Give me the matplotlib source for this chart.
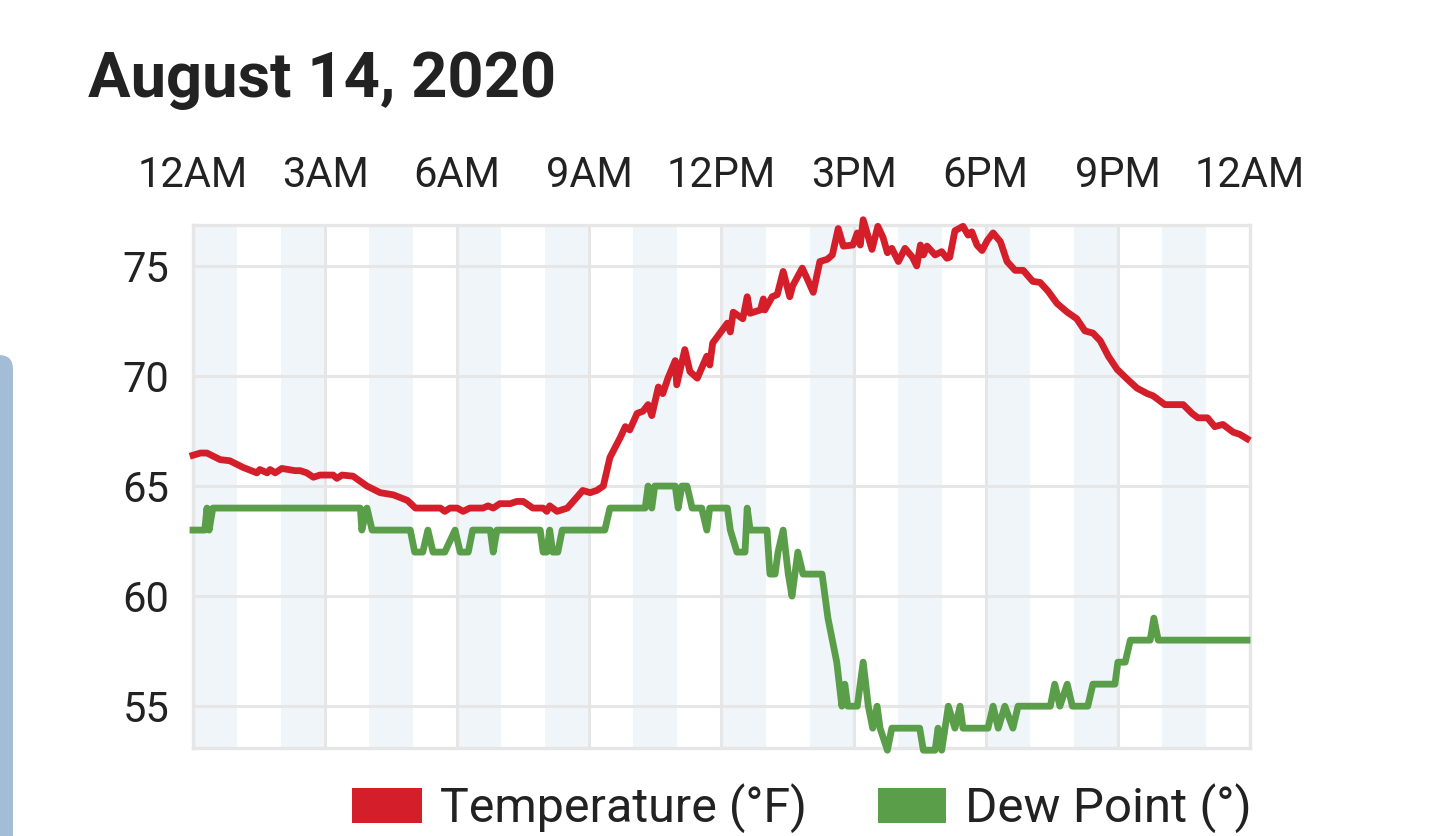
import matplotlib
matplotlib.use("Agg")
import matplotlib.pyplot as plt
from matplotlib.patches import Rectangle, FancyBboxPatch
from matplotlib.transforms import IdentityTransform
import numpy as np

plt.rcParams['font.family'] = ['Roboto', 'DejaVu Sans']

# ---------------- data ----------------
title = "August 14, 2020"
xtick_hours = [0, 3, 6, 9, 12, 15, 18, 21, 24]
xtick_labels = ["12AM", "3AM", "6AM", "9AM", "12PM", "3PM", "6PM", "9PM", "12AM"]
ytick_values = [55, 60, 65, 70, 75]

# minutes after midnight
temp_minutes = [0, 10, 19, 37, 50, 68, 87, 91, 101, 105, 112, 121, 139, 146, 155, 164, 173,
                191, 196, 203, 218, 237, 255, 273, 292, 303, 337, 343, 350, 360, 368, 377,
                395, 402, 409, 418, 432, 441, 450, 463, 477, 482, 486, 496, 510, 523, 531,
                541, 550, 559, 568, 582, 589, 595, 605, 613, 620, 625, 634, 640, 647, 657,
                659, 670, 677, 687, 700, 704, 708, 728, 732, 736, 749, 755, 759, 773, 777,
                779, 789, 796, 804, 813, 817, 830, 837, 845, 854, 864, 871, 879, 886, 899,
                905, 909, 913, 925, 933, 940, 946, 952, 961, 970, 980, 986, 991, 995, 1000,
                1011, 1020, 1027, 1031, 1038, 1049, 1056, 1061, 1068, 1075, 1082, 1090,
                1100, 1109, 1120, 1131, 1144, 1154, 1165, 1177, 1191, 1204, 1215, 1226,
                1236, 1247, 1259, 1273, 1286, 1300, 1308, 1324, 1349, 1361, 1369, 1382,
                1392, 1403, 1417, 1426, 1436]
temperature = [66.4, 66.5, 66.5, 66.2, 66.15, 65.85, 65.6, 65.75, 65.6, 65.75, 65.6, 65.8,
               65.7, 65.7, 65.6, 65.4, 65.5, 65.5, 65.35, 65.5, 65.45, 65.0, 64.7, 64.6,
               64.35, 64.0, 64.0, 63.85, 64.0, 64.0, 63.85, 64.0, 64.0, 64.1, 64.0, 64.2,
               64.2, 64.3, 64.3, 64.0, 64.0, 63.85, 64.1, 63.85, 64.0, 64.5, 64.8, 64.7,
               64.8, 65.0, 66.3, 67.2, 67.7, 67.55, 68.3, 68.4, 68.7, 68.2, 69.5, 69.2,
               69.9, 70.7, 69.6, 71.2, 70.2, 69.9, 70.9, 70.5, 71.5, 72.4, 72.0, 72.9,
               72.6, 73.6, 72.85, 73.0, 73.5, 73.0, 73.6, 73.7, 74.75, 73.6, 74.1, 74.9,
               74.4, 73.8, 75.2, 75.3, 75.5, 76.7, 75.9, 75.95, 76.5, 75.95, 77.1, 75.75,
               76.8, 76.3, 75.6, 75.8, 75.2, 75.8, 75.4, 75.0, 75.95, 75.5, 75.9, 75.5,
               75.65, 75.35, 75.4, 76.6, 76.8, 76.4, 76.55, 75.95, 75.7, 76.15, 76.5,
               76.1, 75.2, 74.8, 74.8, 74.3, 74.25, 73.85, 73.3, 72.9, 72.6, 72.05,
               71.95, 71.6, 70.9, 70.3, 69.85, 69.45, 69.2, 69.1, 68.7, 68.7, 68.3, 68.1,
               68.1, 67.7, 67.8, 67.45, 67.35, 67.15]

dew_minutes = [0, 16, 19, 22, 27, 228, 230, 237, 244, 296, 302, 313, 320, 327, 343, 357,
               364, 375, 381, 405, 409, 414, 473, 477, 482, 486, 490, 497, 503, 561, 568,
               616, 620, 625, 629, 657, 661, 666, 673, 680, 693, 700, 704, 728, 732, 741,
               752, 755, 759, 782, 786, 793, 797, 804, 811, 816, 824, 831, 857, 861, 865,
               871, 877, 884, 888, 892, 905, 913, 920, 926, 932, 936, 946, 952, 990, 995,
               1011, 1015, 1020, 1029, 1038, 1045, 1049, 1083, 1090, 1097, 1106, 1117,
               1124, 1168, 1174, 1181, 1191, 1198, 1219, 1226, 1256, 1260, 1270, 1277,
               1304, 1309, 1315, 1436]
dew_point = [63, 63, 64, 63, 64, 64, 63, 64, 63, 63, 62, 62, 63, 62, 62, 63,
             62, 62, 63, 63, 62, 63, 63, 62, 62, 63, 62, 62, 63, 63, 64,
             64, 65, 64, 65, 65, 64, 65, 65, 64, 64, 63, 64, 64, 63, 62,
             62, 64, 63, 63, 61, 61, 62, 63, 61, 60, 62, 61, 61, 60, 59,
             58, 57, 55, 56, 55, 55, 57, 55, 54, 55, 54, 53, 54, 54, 53,
             53, 54, 53, 55, 54, 55, 54, 54, 55, 54, 55, 54,
             55, 55, 56, 55, 56, 55, 55, 56, 56, 57, 57, 58,
             58, 59, 58, 58]

series_names = ["Temperature (°F)", "Dew Point (°)"]

# ---------------- style ----------------
RED = "#d41f2b"
GREEN = "#5b9e4a"
BAND = "#f0f5fa"
GRID = "#e6e6e6"
TEXT = "#222222"

W, H = 1434, 836
fig = plt.figure(figsize=(W / 100, H / 100), dpi=100)
fig.patch.set_facecolor("white")

ax = fig.add_axes([193 / W, 1 - 748 / H, 1057 / W, 523 / H])
ax.set_xlim(0, 24)
ax.set_ylim(53.1, 76.86)

for h in range(0, 24, 2):
    ax.axvspan(h, h + 1, color=BAND, zorder=0, lw=0)

ax.set_axisbelow(True)
ax.grid(True, color=GRID, lw=2.2)
for s in ax.spines.values():
    s.set_color(GRID)
    s.set_linewidth(2.4)

th = np.array(temp_minutes) / 60.0
dh = np.array(dew_minutes) / 60.0
ax.plot(th, temperature, color=RED, lw=4.9, clip_on=False, zorder=3)
ax.plot(dh, dew_point, color=GREEN, lw=4.9, clip_on=False, zorder=3)

ax.xaxis.tick_top()
ax.set_xticks(xtick_hours)
ax.set_xticklabels(xtick_labels)
ax.set_yticks(ytick_values)
ax.tick_params(axis="x", length=0, pad=21, labelsize=30, colors=TEXT)
ax.tick_params(axis="y", length=0, pad=17, labelsize=30, colors=TEXT)

fig.text(88 / W, 1 - 97 / H, title, fontsize=45.5, fontweight="bold", color=TEXT,
         va="baseline", ha="left")

# left UI decoration
fig.add_artist(FancyBboxPatch((-40, -40), 53, 836 - 355 + 40,
                              boxstyle="round,pad=0,rounding_size=14",
                              transform=IdentityTransform(), facecolor="#a3bdd6",
                              edgecolor="none"))

# legend
fig.add_artist(Rectangle((352, 836 - 823), 70, 35, transform=IdentityTransform(),
                         facecolor=RED, edgecolor="none"))
fig.add_artist(Rectangle((878, 836 - 823), 68, 35, transform=IdentityTransform(),
                         facecolor=GREEN, edgecolor="none"))
fig.text(440 / W, (836 - 822) / H, series_names[0], fontsize=34.8, color=TEXT,
         va="baseline", ha="left")
fig.text(965 / W, (836 - 822) / H, series_names[1], fontsize=35.5, color=TEXT,
         va="baseline", ha="left")

fig.savefig("out.png", dpi=100)
